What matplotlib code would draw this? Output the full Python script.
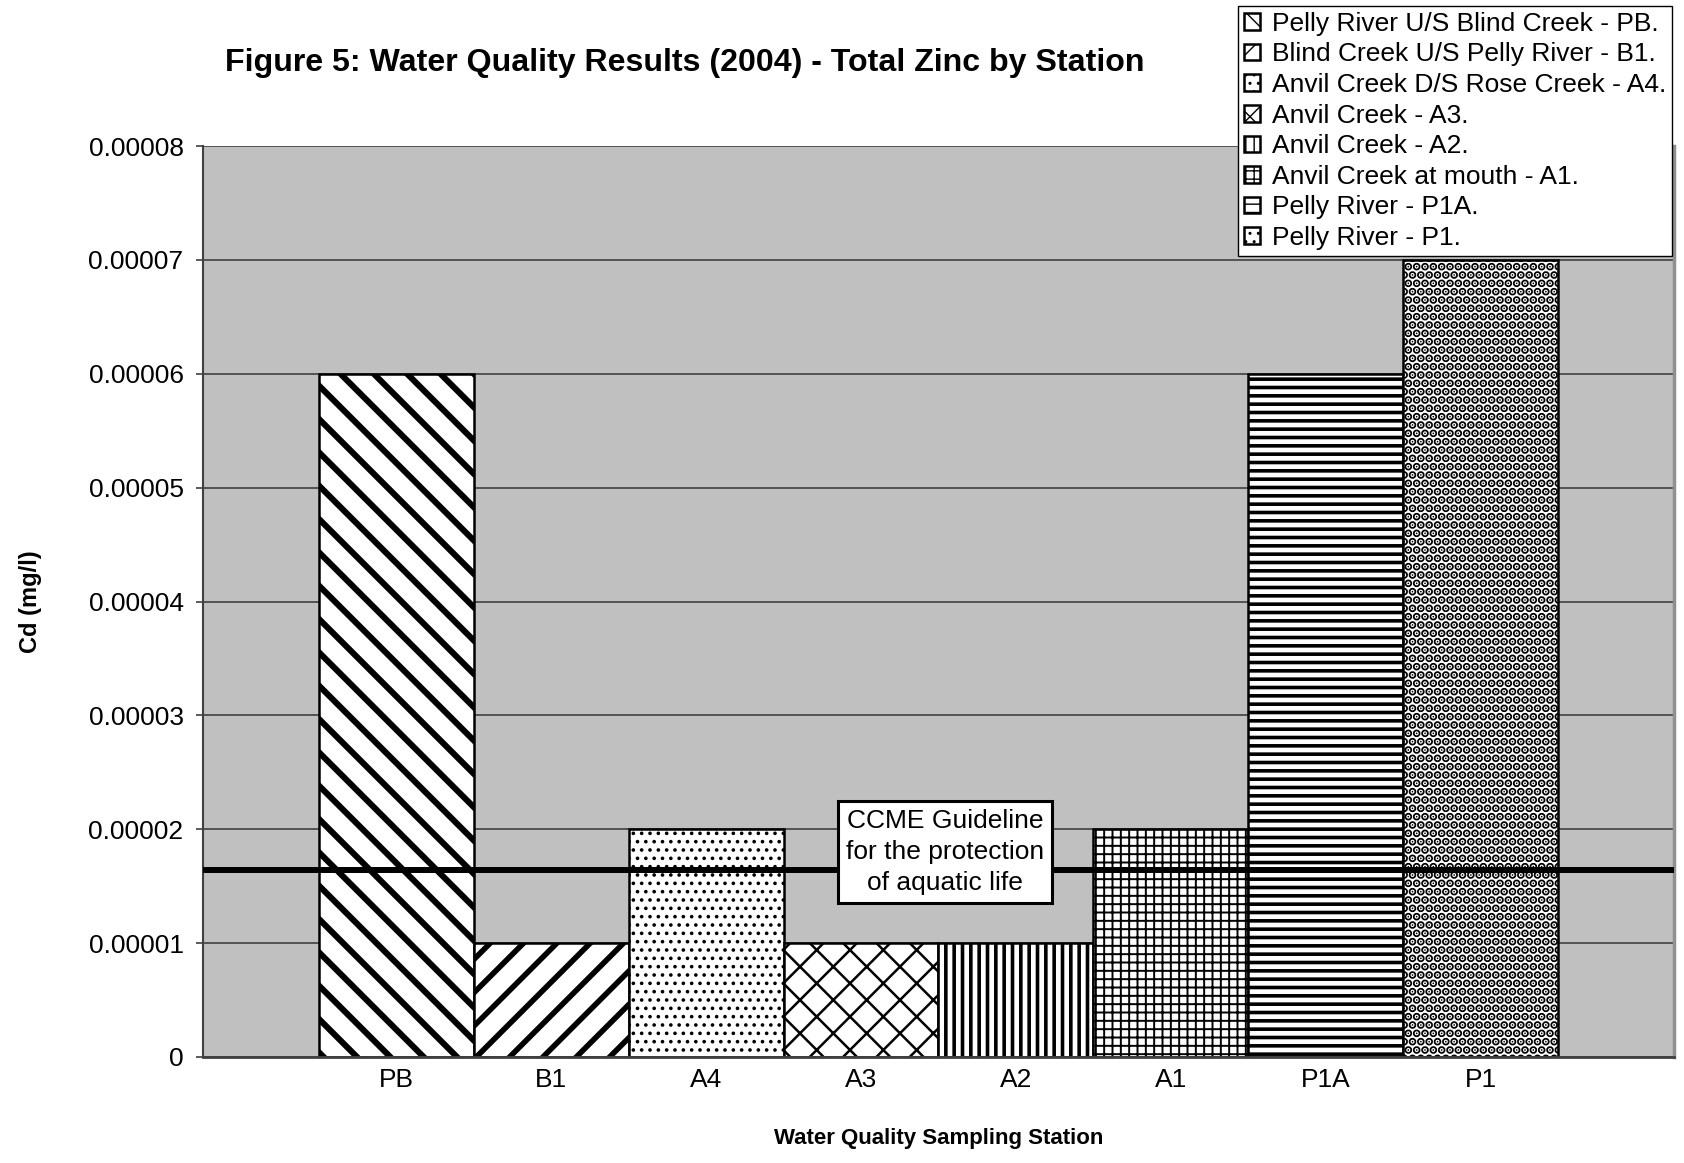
import matplotlib
matplotlib.use("Agg")
import matplotlib.pyplot as plt
import numpy as np

plt.rcParams['font.family'] = ['Liberation Sans', 'DejaVu Sans']

# data
stations = ['PB', 'B1', 'A4', 'A3', 'A2', 'A1', 'P1A', 'P1']
cd_values = [0.00006, 0.00001, 0.00002, 0.00001, 0.00001, 0.00002, 0.00006, 0.00007]
legend_labels = [
    'Pelly River U/S Blind Creek - PB.',
    'Blind Creek U/S Pelly River - B1.',
    'Anvil Creek D/S Rose Creek - A4.',
    'Anvil Creek - A3.',
    'Anvil Creek - A2.',
    'Anvil Creek at mouth - A1.',
    'Pelly River - P1A.',
    'Pelly River - P1.',
]
guideline = 0.0000164
yticks = [0, 0.00001, 0.00002, 0.00003, 0.00004, 0.00005, 0.00006, 0.00007, 0.00008]

# hatch pattern + hatch line width for each bar
hatches = ['\\', '/', '..', 'x', '||', '++', '--', '..']
hatch_lw = [4.4, 4.0, 1.4, 1.8, 2.6, 1.4, 2.6, 4.2]

fig = plt.figure(figsize=(16.84, 11.63), dpi=100)
ax = fig.add_axes([203 / 1684, 1 - 1057 / 1163, 1471 / 1684, 911 / 1163])
ax.set_facecolor('#c0c0c0')

x = np.arange(len(stations))
handles = []
for i in range(len(stations)):
    with plt.rc_context({'hatch.linewidth': hatch_lw[i], 'hatch.color': 'black'}):
        b = ax.bar(x[i], cd_values[i], width=1.0, color='white', edgecolor='black',
                   linewidth=1.8, hatch=hatches[i], label=legend_labels[i], zorder=2)
        for p in b.patches:
            if hasattr(p, 'set_hatch_linewidth'):
                p.set_hatch_linewidth(hatch_lw[i])
    handles.append(b)

ax.axhline(guideline, color='black', linewidth=4.3, zorder=3)

ax.set_xlim(-1.249, 8.249)
ax.set_ylim(0, 0.00008)
ax.set_yticks(yticks)
ax.set_yticklabels(['0' if v == 0 else f'{v:.5f}' for v in yticks])
ax.set_xticks(x)
ax.set_xticklabels(stations)
ax.tick_params(axis='y', labelsize=19, length=5, width=1.2, color='#404040', pad=9)
ax.tick_params(axis='x', labelsize=19, length=0, pad=8)

ax.set_axisbelow(True)
ax.yaxis.grid(True, color='#404040', linewidth=1.2)
ax.xaxis.grid(False)

ax.spines['top'].set_visible(False)
ax.spines['left'].set_color('#404040')
ax.spines['left'].set_linewidth(1.5)
ax.spines['bottom'].set_color('#404040')
ax.spines['bottom'].set_linewidth(2)
ax.spines['right'].set_color('#909090')
ax.spines['right'].set_linewidth(2.5)

ax.set_ylabel('Cd (mg/l)', fontsize=17, fontweight='bold')
ax.yaxis.set_label_coords(-0.117, 0.5)
ax.yaxis.label.set_va('center')
ax.set_xlabel('Water Quality Sampling Station', fontsize=16, fontweight='bold')
ax.xaxis.set_label_coords(0.5, -0.09)
ax.xaxis.label.set_va('center')

fig.text(685 / 1684, 1 - 63 / 1163,
         'Figure 5: Water Quality Results (2004) - Total Zinc by Station',
         ha='center', va='center', fontsize=23.1, fontweight='bold')

ax.text(0.5044, 0.225, 'CCME Guideline\nfor the protection\nof aquatic life',
        transform=ax.transAxes, ha='center', va='center', fontsize=19,
        linespacing=1.37, zorder=5,
        bbox=dict(boxstyle='square,pad=0.3', facecolor='white',
                  edgecolor='black', linewidth=2.2))

leg = fig.legend(handles=handles, labels=legend_labels, loc='upper left',
                 bbox_to_anchor=(1238 / 1684, 1 - 6 / 1163), borderaxespad=0,
                 fontsize=19, frameon=True, fancybox=False, framealpha=1,
                 edgecolor='black', handlelength=0.6, handleheight=0.6,
                 handletextpad=0.45, labelspacing=0.25, borderpad=0.22)
leg.get_frame().set_linewidth(1.0)

fig.savefig('out.png', dpi=100)
